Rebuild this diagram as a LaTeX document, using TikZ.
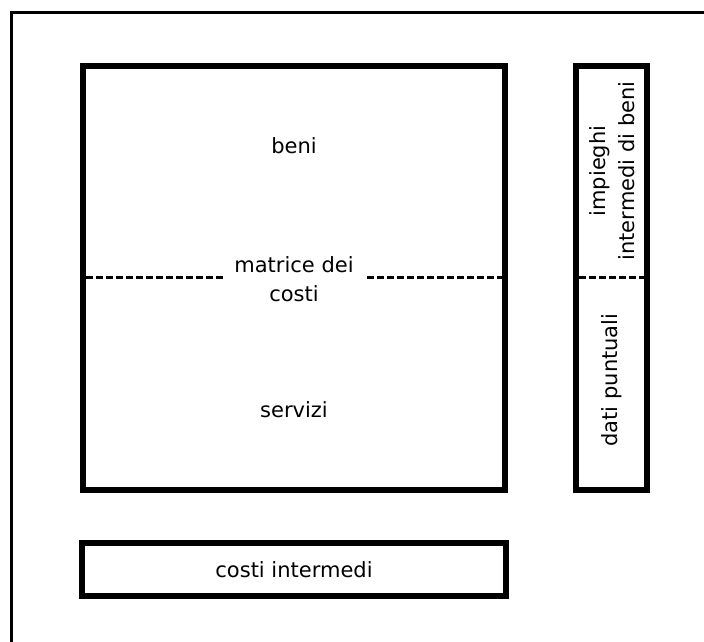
\documentclass[tikz,border=0pt]{standalone}
\usepackage{fontspec}
\setmainfont{DejaVu Sans}
\begin{document}
\begin{tikzpicture}[x=1pt,y=-1pt,
  box/.style={draw=black,line width=6pt,inner sep=0pt,fill=none},
  sep/.style={draw=black,line width=3pt,dash pattern=on 7pt off 3pt},
  lbl/.style={font=\fontsize{21}{29}\selectfont,align=center,inner sep=0pt}]
  \useasboundingbox (0,0) rectangle (704,642);
  % outer frame (only its top and left edges fall on the page)
  \begin{scope}
    \clip (0,0) rectangle (704,642);
    \draw[line width=3.5pt] (11.5,660) -- (11.5,12.5) -- (720,12.5);
  \end{scope}
  % main matrix box
  \node[box,minimum width=422pt,minimum height=423.5pt] (main) at (294,277.75) {};
  % side column
  \node[box,minimum width=71pt,minimum height=423.5pt] (side) at (611.5,277.75) {};
  % bottom row
  \node[box,minimum width=424pt,minimum height=52.5pt,font=\fontsize{21}{29}\selectfont] (costi) at (294,569.25) {costi intermedi};
  % labels
  \node[lbl] (beni) at (294,146) {beni};
  \node[lbl] (matrice) at (294,279) {matrice dei\\costi};
  \node[lbl] (servizi) at (294,410) {servizi};
  \node[lbl,rotate=90] (impieghi) at (612,171) {impieghi\\intermedi di beni};
  \node[lbl,rotate=90] (dati) at (612,380) {dati puntuali};
  % dashed separators
  \coordinate (mL) at (86,277);
  \coordinate (mLe) at (226,277);
  \coordinate (mRs) at (367,277);
  \coordinate (mR) at (503,277);
  \coordinate (sL) at (579,277);
  \coordinate (sR) at (644,277);
  \draw[sep] (mL) -- (mLe);
  \draw[sep] (mRs) -- (mR);
  \draw[sep] (sL) -- (sR);
\end{tikzpicture}
\end{document}
